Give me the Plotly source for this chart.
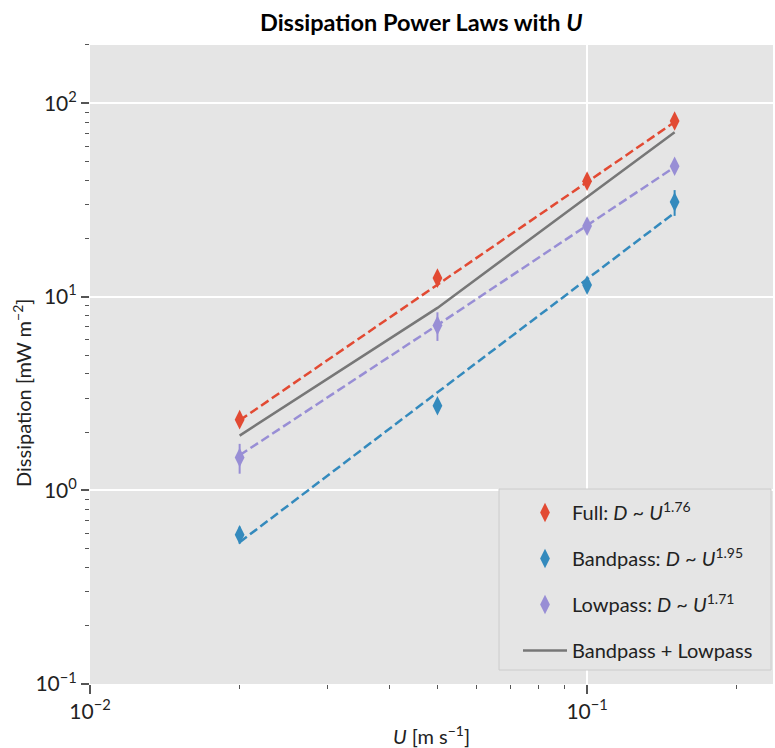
import plotly.graph_objects as go

# ---- data ----
U = [0.02, 0.05, 0.1, 0.15]

full_vals = [2.32, 12.5, 39.6, 81.0]
full_err = [0.15, 0.7, 2.0, 4.0]
full_fit = [2.30, 11.6, 39.3, 80.0]

band_vals = [0.59, 2.74, 11.5, 30.9]
band_err = [0.06, 0.15, 0.6, 4.7]
band_fit = [0.54, 3.2, 12.3, 27.2]

low_vals = [1.48, 7.12, 23.2, 47.3]
low_err = [0.26, 1.2, 1.5, 3.0]
low_fit = [1.52, 7.15, 23.4, 46.8]

sum_vals = [1.92, 8.77, 32.8, 70.9]

labels = [
    "Full: <i>D</i> ~ <i>U</i><sup>1.76</sup>",
    "Bandpass: <i>D</i> ~ <i>U</i><sup>1.95</sup>",
    "Lowpass: <i>D</i> ~ <i>U</i><sup>1.71</sup>",
    "Bandpass + Lowpass",
]
colors = ["#E24A33", "#348ABD", "#988ED5", "#777777"]

x_tickvals = [0.01, 0.1]
x_ticktext = ["10<sup>−2</sup>", "10<sup>−1</sup>"]
y_tickvals = [0.1, 1, 10, 100]
y_ticktext = ["10<sup>−1</sup>", "10<sup>0</sup>", "10<sup>1</sup>", "10<sup>2</sup>"]

FONT = "Lato"

fig = go.Figure()

series = [(full_vals, full_err, full_fit), (band_vals, band_err, band_fit), (low_vals, low_err, low_fit)]
for i, (vals, err, fit) in enumerate(series):
    fig.add_trace(go.Scatter(
        x=U, y=fit, mode="lines",
        line=dict(color=colors[i], width=2.5, dash="9px,4px"),
        showlegend=False, hoverinfo="skip"))
fig.add_trace(go.Scatter(
    x=U, y=sum_vals, mode="lines", name=labels[3],
    line=dict(color=colors[3], width=2.5), showlegend=False))
for i, (vals, err, fit) in enumerate(series):
    fig.add_trace(go.Scatter(
        x=U, y=vals, mode="markers", name=labels[i],
        legendgroup=f"g{i}",
        marker=dict(symbol="diamond-tall", size=14, color=colors[i], line=dict(width=0)),
        error_y=dict(type="data", array=err, color=colors[i], thickness=2, width=0)))
# legend entry for the sum line
fig.add_trace(go.Scatter(
    x=[None], y=[None], mode="lines", name=labels[3], legendgroup="g3",
    line=dict(color=colors[3], width=2.5)))

minor_x = [m * 10 ** e for e in (-2, -1) for m in range(2, 10)]
minor_y = [m * 10 ** e for e in (-1, 0, 1, 2) for m in range(2, 10)]

fig.update_layout(
    width=775, height=748,
    margin=dict(l=90, r=2, t=45, b=64),
    paper_bgcolor="white",
    plot_bgcolor="#E5E5E5",
    font=dict(family=FONT, size=20, color="#222222"),
    title=dict(text="<b>Dissipation Power Laws with <i>U</i></b>",
               x=0.485, xref="paper", xanchor="center",
               y=0.97, yref="container", yanchor="middle",
               font=dict(family=FONT, size=23.5, color="black")),
    xaxis=dict(type="log", range=[-2, -0.626],
               tickvals=x_tickvals, ticktext=x_ticktext,
               ticks="outside", ticklen=9, tickwidth=1.5, tickcolor="#555555",
               tickfont=dict(size=21, color="#222222"),
               showgrid=True, gridcolor="white", gridwidth=2,
               zeroline=False, showline=False,
               minor=dict(tickvals=minor_x, ticks="outside", ticklen=4,
                          tickwidth=1, tickcolor="#555555", showgrid=False),
               title=dict(text="<i>U</i> [m s<sup>−1</sup>]", standoff=8,
                          font=dict(size=20, color="#222222"))),
    yaxis=dict(type="log", range=[-1, 2.301],
               tickvals=y_tickvals, ticktext=y_ticktext,
               ticks="outside", ticklen=8, tickwidth=1.5, tickcolor="#555555",
               tickfont=dict(size=21, color="#222222"),
               showgrid=True, gridcolor="white", gridwidth=2,
               zeroline=False, showline=False,
               minor=dict(tickvals=minor_y, ticks="outside", ticklen=4,
                          tickwidth=1, tickcolor="#555555", showgrid=False)),
    legend=dict(x=(518 - 90) / 683, y=(684 - 493) / 639, xanchor="left", yanchor="top",
                bgcolor="rgba(0,0,0,0)", borderwidth=0,
                font=dict(family=FONT, size=20, color="#222222"),
                traceorder="grouped", tracegroupgap=17,
                itemwidth=44),
    shapes=[dict(type="rect", xref="paper", yref="paper",
                 x0=(499 - 90) / 683, x1=(771 - 90) / 683,
                 y0=(684 - 670) / 639, y1=(684 - 489) / 639,
                 fillcolor="#E5E5E5", line=dict(color="#CCCCCC", width=1),
                 layer="above")],
    annotations=[dict(text="Dissipation [mW m<sup>−2</sup>]", textangle=-90,
                      xref="paper", yref="paper",
                      x=(22 - 90) / 683, y=(684 - 393) / 639,
                      xanchor="center", yanchor="middle", showarrow=False,
                      font=dict(family=FONT, size=20, color="#222222"))],
)

fig.write_html("out.html")
